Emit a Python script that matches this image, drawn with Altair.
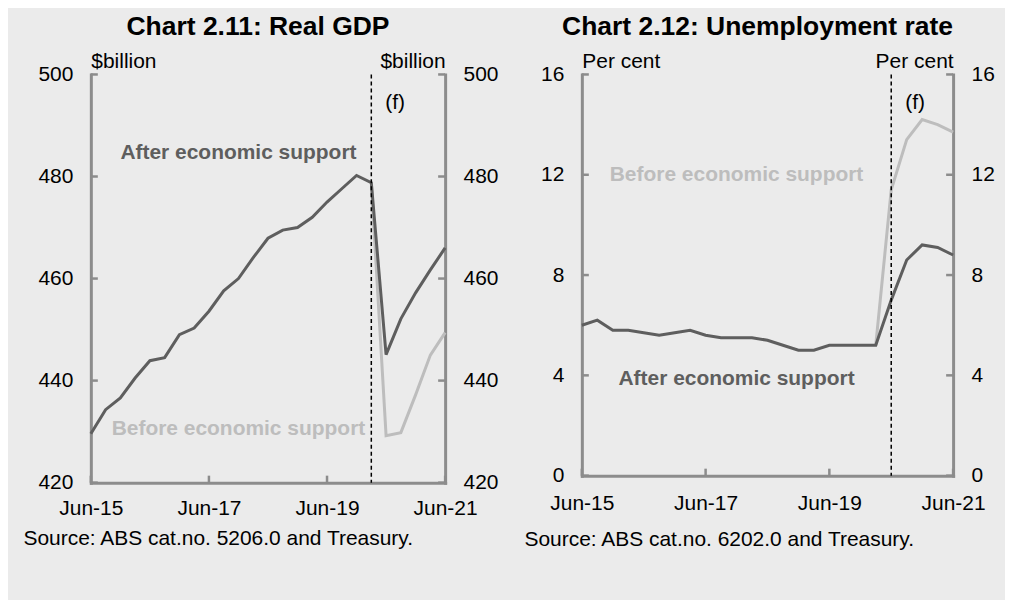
import altair as alt
import pandas as pd

FONT = "Liberation Sans"
BG = "#EBEBEB"
AXIS_COL = "#8C8C8C"
DARK = "#5E5E5E"
LIGHT = "#BDBDBD"

quarters = ["Jun-15", "Sep-15", "Dec-15", "Mar-16", "Jun-16", "Sep-16", "Dec-16",
            "Mar-17", "Jun-17", "Sep-17", "Dec-17", "Mar-18", "Jun-18", "Sep-18",
            "Dec-18", "Mar-19", "Jun-19", "Sep-19", "Dec-19", "Mar-20", "Jun-20",
            "Sep-20", "Dec-20", "Mar-21", "Jun-21"]
x_labels = ["Jun-15", "Jun-17", "Jun-19", "Jun-21"]

# Chart 2.11 Real GDP ($billion)
gdp_after = [429.6, 434.3, 436.6, 440.5, 443.9, 444.5, 449.0, 450.3, 453.6, 457.6,
             460.0, 464.1, 467.9, 469.5, 470.0, 472.0, 475.0, 477.6, 480.2, 478.8,
             445.1, 452.1, 457.2, 461.7, 466.0]
gdp_before_q = ["Mar-20", "Jun-20", "Sep-20", "Dec-20", "Mar-21", "Jun-21"]
gdp_before = [478.8, 429.2, 429.8, 437.2, 445.0, 449.4]
gdp_ticks = [420, 440, 460, 480, 500]
gdp_forecast_start = "Mar-20"

# Chart 2.12 Unemployment rate (per cent)
ur_after = [6.0, 6.2, 5.8, 5.8, 5.7, 5.6, 5.7, 5.8, 5.6, 5.5, 5.5, 5.5, 5.4, 5.2,
            5.0, 5.0, 5.2, 5.2, 5.2, 5.2, 7.0, 8.6, 9.2, 9.1, 8.8]
ur_before_q = ["Mar-20", "Jun-20", "Sep-20", "Dec-20", "Mar-21", "Jun-21"]
ur_before = [5.2, 11.4, 13.4, 14.2, 14.0, 13.7]
ur_ticks = [0, 4, 8, 12, 16]
ur_forecast_start = "Jun-20"


def panel(title, unit, ticks, after, before_q, before, fstart, source,
          W, H, src_x, src_y, lab_pad, after_y, before_y, f_y):
    dom = [ticks[0], ticks[-1]]
    xs = alt.Scale(type="point", domain=quarters, padding=0)
    ys = alt.Scale(domain=dom, nice=False, zero=False)
    common_axis = dict(domainColor=AXIS_COL, domainWidth=3, domainCap="square",
                       ticks=False, tickSize=0, grid=False, labelFont=FONT,
                       labelFontSize=21, labelColor="black", titleFont=FONT,
                       titleFontSize=21, titleFontWeight="normal", titleColor="black")
    x_axis = alt.Axis(values=x_labels, labelAngle=0, labelPadding=lab_pad,
                      title=source, titleAnchor="start", titleAlign="left",
                      titleX=src_x, titleY=src_y, titleBaseline="alphabetic",
                      **common_axis)
    y_axis_left = alt.Axis(orient="left", values=ticks, labelPadding=18,
                           title=unit, titleAngle=0, titleAlign="left",
                           titleBaseline="alphabetic", titleX=0, titleY=-7,
                           **common_axis)
    y_axis_right = alt.Axis(orient="right", values=ticks, labelPadding=18,
                            title=unit, titleAngle=0, titleAlign="right",
                            titleBaseline="alphabetic", titleX=0, titleY=-7,
                            **common_axis)

    df_after = pd.DataFrame({"q": quarters, "v": after, "i": range(len(quarters))})
    df_before = pd.DataFrame({"q": before_q, "v": before, "i": range(len(before_q))})
    df_ticks = pd.DataFrame({"v": ticks})
    df_xt = pd.DataFrame({"q": x_labels})

    before_line = alt.Chart(df_before).mark_line(color=LIGHT, strokeWidth=3).encode(
        x=alt.X("q:O", scale=xs, axis=x_axis),
        y=alt.Y("v:Q", scale=ys, axis=y_axis_left),
        order="i:Q")
    after_line = alt.Chart(df_after).mark_line(color=DARK, strokeWidth=3).encode(
        x=alt.X("q:O", scale=xs), y=alt.Y("v:Q", scale=ys), order="i:Q")
    frule = alt.Chart(pd.DataFrame({"q": [fstart]})).mark_rule(
        color="black", strokeWidth=1.5, strokeDash=[4, 3]).encode(
        x=alt.X("q:O", scale=xs))
    ftext = alt.Chart(pd.DataFrame({"q": [fstart], "v": [f_y], "t": ["(f)"]})).mark_text(
        font=FONT, fontSize=21, align="left", baseline="middle", dx=14, color="black").encode(
        x=alt.X("q:O", scale=xs), y=alt.Y("v:Q", scale=ys), text="t:N")
    labels = pd.DataFrame({"q": ["Dec-17", "Dec-17"], "v": [after_y, before_y],
                           "t": ["After economic support", "Before economic support"],
                           "c": [DARK, LIGHT]})
    lab = alt.Chart(labels).mark_text(font=FONT, fontSize=21, fontWeight="bold",
                                      align="center", baseline="middle").encode(
        x=alt.X("q:O", scale=xs), y=alt.Y("v:Q", scale=ys), text="t:N",
        color=alt.Color("c:N", scale=None))
    lticks = alt.Chart(df_ticks).mark_rule(color=AXIS_COL, strokeWidth=2.5).encode(
        y=alt.Y("v:Q", scale=ys), x=alt.value(0), x2=alt.value(7))
    xticks = alt.Chart(df_xt).mark_rule(color=AXIS_COL, strokeWidth=2.5).encode(
        x=alt.X("q:O", scale=xs), y=alt.value(H - 7), y2=alt.value(H))
    inner = alt.layer(before_line, after_line, frule, ftext, lab, lticks, xticks)
    rticks = alt.Chart(df_ticks).mark_rule(color=AXIS_COL, strokeWidth=2.5).encode(
        y=alt.Y("v:Q", scale=alt.Scale(domain=dom, nice=False, zero=False), axis=y_axis_right),
        x=alt.value(W - 7), x2=alt.value(W))
    return alt.layer(inner, rticks).resolve_scale(y="independent").properties(
        width=W, height=H,
        title=alt.TitleParams(title, font=FONT, fontSize=26.5, fontWeight="bold",
                              color="black", anchor="middle", dx=-10, offset=10))


left = panel("Chart 2.11: Real GDP", "$billion", gdp_ticks, gdp_after, gdp_before_q,
             gdp_before, gdp_forecast_start, "Source: ABS cat.no. 5206.0 and Treasury.",
             355, 409, -68, 62, 15, 484.7, 430.5, 494.5)
right = panel("Chart 2.12: Unemployment rate", "Per cent", ur_ticks, ur_after, ur_before_q,
              ur_before, ur_forecast_start, "Source: ABS cat.no. 6202.0 and Treasury.",
              372, 402, -58, 70, 17, 3.84, 12.0, 14.88)

chart = alt.hconcat(left, right, spacing=25).properties(
    background=BG, padding={"left": 15, "top": 5, "right": 10, "bottom": 50}
).configure_view(stroke=None).configure_concat(spacing=25)

chart.save("out.html", embed_options={"renderer": "svg", "actions": False})
